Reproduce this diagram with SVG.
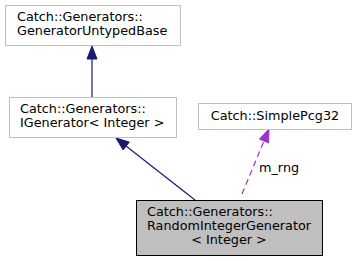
<svg xmlns="http://www.w3.org/2000/svg" width="356" height="261" viewBox="0 0 356 261">
  <style>
    .node rect { fill: #ffffff; stroke: #bfbfbf; stroke-width: 1; }
    .node.current rect { fill: #bfbfbf; stroke: #000000; }
    text { font-family: "DejaVu Sans", sans-serif; font-size: 12.8px; fill: #000000; }
    .inherit { stroke: #191970; stroke-width: 1.2; fill: none; }
    .inherit-head { fill: #191970; stroke: #191970; }
    .use { stroke: #9a32cd; stroke-width: 1.2; fill: none; stroke-dasharray: 6,4; }
    .use-head { fill: #9a32cd; stroke: #9a32cd; }
  </style>
  <rect width="356" height="261" fill="#ffffff"/>

  <g id="edges">
    <!-- IGenerator -> GeneratorUntypedBase -->
    <line class="inherit" x1="92" y1="97" x2="92" y2="59"/>
    <polygon class="inherit-head" points="92,46 87,59 97,59"/>
    <!-- RandomIntegerGenerator -> IGenerator -->
    <line class="inherit" x1="195" y1="200" x2="126" y2="146"/>
    <polygon class="inherit-head" points="116,138 129.3,142.1 123.1,149.9"/>
    <!-- RandomIntegerGenerator uses SimplePcg32 -->
    <line class="use" x1="242" y1="194" x2="264" y2="141"/>
    <polygon class="use-head" points="269,129 268.6,142.9 259.4,139.1"/>
    <text x="259" y="172">m_rng</text>
  </g>

  <g id="node-GeneratorUntypedBase" class="node">
    <rect x="5.5" y="5.5" width="175" height="40"/>
    <text x="17" y="21">Catch::Generators::</text>
    <text x="17" y="35">GeneratorUntypedBase</text>
  </g>

  <g id="node-IGenerator" class="node">
    <rect x="9.5" y="97.5" width="167" height="40"/>
    <text x="20" y="113">Catch::Generators::</text>
    <text x="20" y="127">IGenerator&lt; Integer &gt;</text>
  </g>

  <g id="node-SimplePcg32" class="node">
    <rect x="198.5" y="103.5" width="153" height="26"/>
    <text x="275" y="120" text-anchor="middle">Catch::SimplePcg32</text>
  </g>

  <g id="node-RandomIntegerGenerator" class="node current">
    <rect x="136.5" y="200.5" width="186" height="55"/>
    <text x="147" y="216">Catch::Generators::</text>
    <text x="147" y="230">RandomIntegerGenerator</text>
    <text x="229" y="244" text-anchor="middle">&lt; Integer &gt;</text>
  </g>
</svg>
